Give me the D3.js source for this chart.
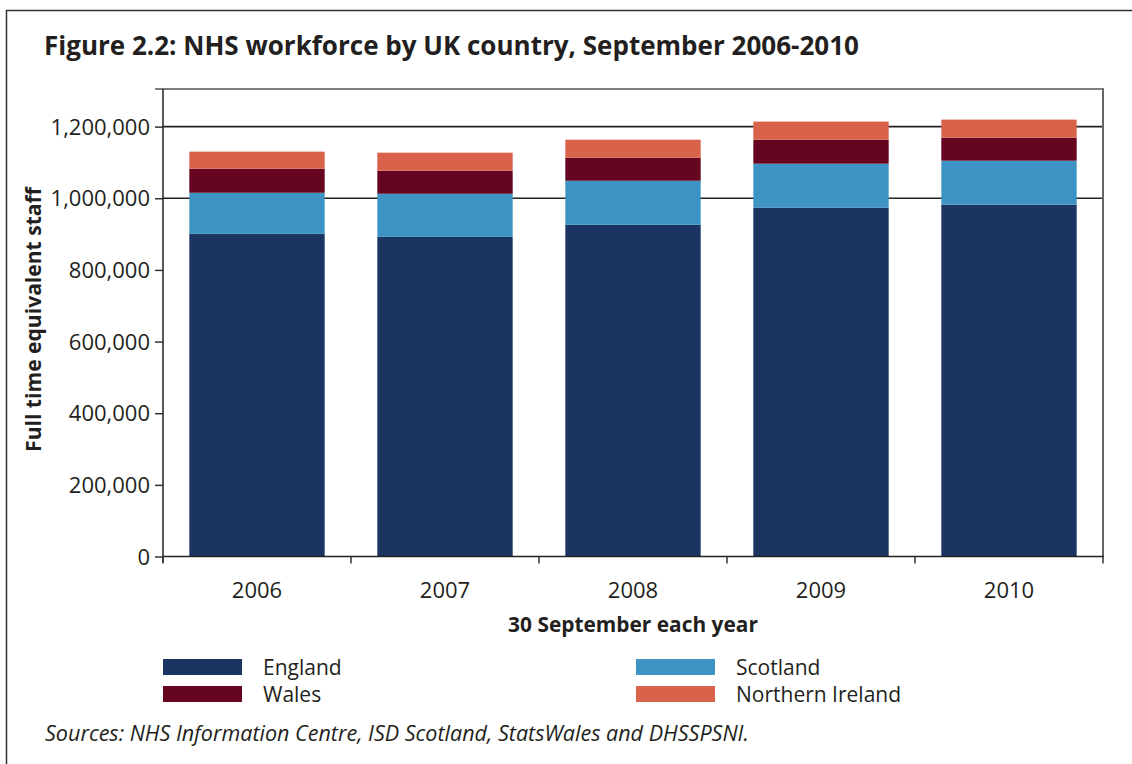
<!DOCTYPE html>
<html>
<head>
<meta charset="utf-8">
<script src="https://cdn.jsdelivr.net/npm/d3@7/dist/d3.min.js"></script>
<style>
  html, body { margin: 0; padding: 0; background: #fff; }
  svg { display: block; }
  text { font-family: "Open Sans", "Noto Sans", sans-serif; fill: #231f20; }
</style>
</head>
<body>
<svg id="chart" width="1132" height="764"></svg>
<script>
// ---- data ----
const years = ["2006", "2007", "2008", "2009", "2010"];
const england = [900700, 892300, 925900, 973400, 981800];
const scotland = [114700, 120300, 123000, 123100, 123100];
const wales = [67100, 64300, 64300, 67100, 64300];
const northernIreland = [47600, 50400, 50300, 50400, 50400];
const seriesNames = ["England", "Scotland", "Wales", "Northern Ireland"];
const seriesColors = ["#1b3461", "#3d93c4", "#650520", "#d9624b"];
const yTicks = [0, 200000, 400000, 600000, 800000, 1000000, 1200000];
const gridTicks = [1000000, 1200000];
const yMax = 1305000;

const titleText = "Figure 2.2: NHS workforce by UK country, September 2006-2010";
const yTitle = "Full time equivalent staff";
const xTitle = "30 September each year";
const sourceText = "Sources: NHS Information Centre, ISD Scotland, StatsWales and DHSSPSNI.";

// ---- layout ----
const L = 163, R = 1103, T = 89, B = 556.5;
const svg = d3.select("#chart");

function fitWidth(sel, target) {
  const node = sel.node();
  const fs = parseFloat(sel.style("font-size"));
  const w = node.getComputedTextLength();
  if (w > 0) sel.style("font-size", (fs * target / w).toFixed(2) + "px");
  return sel;
}

// outer frame
svg.append("rect").attr("x", 6.5).attr("y", 10.5).attr("width", 1140).attr("height", 780)
  .attr("fill", "none").attr("stroke", "#333").attr("stroke-width", 1.5);

// title
const title = svg.append("text").attr("x", 44).attr("y", 55)
  .style("font-size", "23px").style("font-weight", "bold").text(titleText);
fitWidth(title, 815);

const table = years.map((y, i) => ({
  year: y, England: england[i], Scotland: scotland[i], Wales: wales[i], "Northern Ireland": northernIreland[i]
}));
const stack = d3.stack().keys(seriesNames)(table);

const x = d3.scaleBand().domain(years).range([L, R]).paddingInner(0.28).paddingOuter(0.14);
const y = d3.scaleLinear().domain([0, yMax]).range([B, T]);
const color = d3.scaleOrdinal().domain(seriesNames).range(seriesColors);

// gridlines
svg.append("g").selectAll("line").data(gridTicks).join("line")
  .attr("x1", L).attr("x2", R).attr("y1", d => y(d)).attr("y2", d => y(d))
  .attr("stroke", "#222").attr("stroke-width", 1.6);

// top frame line (with tick extension) and right frame
svg.append("line").attr("x1", 155).attr("x2", R + 1).attr("y1", T).attr("y2", T)
  .attr("stroke", "#555").attr("stroke-width", 1.6);
svg.append("line").attr("x1", R).attr("x2", R).attr("y1", T).attr("y2", B)
  .attr("stroke", "#666").attr("stroke-width", 2);

// bars
svg.append("g").selectAll("g").data(stack).join("g")
  .attr("fill", d => color(d.key))
  .selectAll("rect").data(d => d).join("rect")
  .attr("x", d => x(d.data.year))
  .attr("width", x.bandwidth())
  .attr("y", d => y(d[1]))
  .attr("height", d => y(d[0]) - y(d[1]));

// y axis
const yAxis = svg.append("g").attr("transform", `translate(${L},0)`)
  .call(d3.axisLeft(y).tickValues(yTicks).tickFormat(d3.format(",")).tickSize(8).tickPadding(5));
yAxis.select(".domain").remove();
yAxis.append("line").attr("x1", 0).attr("x2", 0).attr("y1", T).attr("y2", B + 6)
  .attr("stroke", "#222").attr("stroke-width", 1.5);
yAxis.selectAll(".tick line").attr("stroke", "#333").attr("stroke-width", 1.5);
yAxis.selectAll(".tick text").style("font-size", "22px").style("font-family", "'Open Sans', sans-serif")
  .attr("fill", "#231f20").attr("dy", "0.35em");

// x axis
const xAxis = svg.append("g").attr("transform", `translate(0,${B})`)
  .call(d3.axisBottom(x).tickSize(0).tickPadding(26));
xAxis.select(".domain").remove();
xAxis.append("line").attr("x1", L).attr("x2", R + 1).attr("y1", 0).attr("y2", 0)
  .attr("stroke", "#222").attr("stroke-width", 1.6);
xAxis.selectAll(".tick text").style("font-size", "22px").style("font-family", "'Open Sans', sans-serif")
  .attr("fill", "#231f20");
const step = x.step();
const bounds = d3.range(years.length + 1).map(i => L + i * step);
xAxis.selectAll(".bound").data(bounds).join("line").attr("class", "bound")
  .attr("x1", d => d).attr("x2", d => d).attr("y1", 0).attr("y2", 7)
  .attr("stroke", "#333").attr("stroke-width", 1.5);

// axis titles
const yt = svg.append("text").attr("transform", "translate(41,319.5) rotate(-90)")
  .attr("text-anchor", "middle").style("font-size", "19px").style("font-weight", "bold").text(yTitle);
fitWidth(yt, 265);
const xt = svg.append("text").attr("x", 633).attr("y", 632)
  .attr("text-anchor", "middle").style("font-size", "19px").style("font-weight", "bold").text(xTitle);
fitWidth(xt, 250);

// legend
const legendPos = [
  { name: "England", sx: 163, sy: 659 },
  { name: "Scotland", sx: 636, sy: 659 },
  { name: "Wales", sx: 163, sy: 686 },
  { name: "Northern Ireland", sx: 636, sy: 686 }
];
const lg = svg.append("g").selectAll("g").data(legendPos).join("g");
lg.append("rect").attr("x", d => d.sx).attr("y", d => d.sy).attr("width", 79).attr("height", 16)
  .attr("fill", d => color(d.name));
lg.append("text").attr("x", d => d.sx + 100).attr("y", d => d.sy + 15.5)
  .style("font-size", "21px").text(d => d.name);

// source
const src = svg.append("text").attr("x", 45).attr("y", 741)
  .style("font-size", "18px").style("font-style", "italic").text(sourceText);
fitWidth(src, 704);
</script>
</body>
</html>
